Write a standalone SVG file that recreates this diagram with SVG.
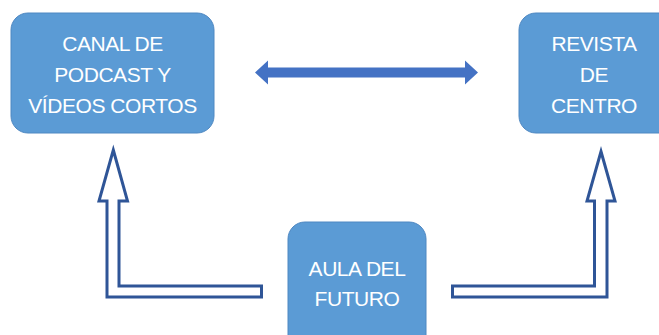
<svg xmlns="http://www.w3.org/2000/svg" width="659" height="335" viewBox="0 0 659 335">
<style>
.box{fill:#5B9BD5;stroke:#4F88C2;stroke-width:1}
.t{font-family:"Liberation Sans",Arial,sans-serif;font-size:21px;letter-spacing:-0.45px;fill:#FFFFFF;text-anchor:middle}
.bent{fill:#FFFFFF;stroke:#2F5597;stroke-width:3;stroke-linejoin:miter}
</style>
<rect width="659" height="335" fill="#FFFFFF"/>
<g id="connectors">
<polygon points="255,72.5 268,60.5 268,67.5 465,67.5 465,60.5 478,72.5 465,84.5 465,77.5 268,77.5 268,84.5" fill="#4472C4"/>
<path class="bent" d="M113.3,150 L127.5,201 L119,201 L119,286 L261.5,286 L261.5,297 L107,297 L107,201 L99,201 Z"/>
<path class="bent" d="M601,151.5 L615,201 L607,201 L607,297 L452.5,297 L452.5,286 L594.5,286 L594.5,201 L587,201 Z"/>
</g>
<g id="canal">
<rect class="box" x="11" y="13" width="203" height="120" rx="17"/>
<text class="t" x="112.5" y="50.5">CANAL DE</text>
<text class="t" x="112.5" y="81.5">PODCAST Y</text>
<text class="t" x="112.5" y="113">VÍDEOS CORTOS</text>
</g>
<g id="revista">
<rect class="box" x="519" y="13" width="160" height="120" rx="17"/>
<text class="t" x="594" y="50.5">REVISTA</text>
<text class="t" x="594" y="81.5">DE</text>
<text class="t" x="594" y="112.5">CENTRO</text>
</g>
<g id="aula">
<rect class="box" x="288" y="222" width="138" height="130" rx="17"/>
<text class="t" x="357" y="275.5">AULA DEL</text>
<text class="t" x="357" y="305.5">FUTURO</text>
</g>
</svg>
